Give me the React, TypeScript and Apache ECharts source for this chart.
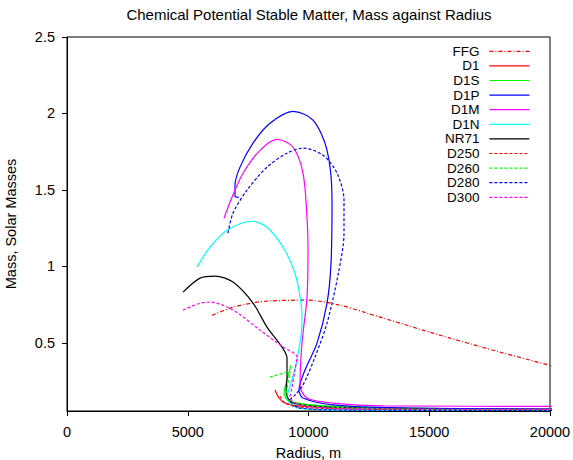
import React, { useEffect, useRef } from "react";
import * as echarts from "echarts";

type P = [number, number];

const TITLE = "Chemical Potential Stable Matter, Mass against Radius";
const X_NAME = "Radius, m";
const Y_NAME = "Mass, Solar Masses";
const Y_TICKS = [0.5, 1, 1.5, 2, 2.5];

// [radius (m), mass (solar masses)]
const FFG: P[] = [[6004, 0.68], [6874, 0.733], [7600, 0.758], [8282, 0.773], [9938, 0.779], [11305, 0.746], [12423, 0.694], [13800, 0.628], [15156, 0.563], [17931, 0.439], [19960, 0.354], [21000, 0.31]];
const D1: P[] = [[8613, 0.191], [8779, 0.139], [9027, 0.106], [9648, 0.086], [12133, 0.073], [16000, 0.069], [20500, 0.066]];
const D1S: P[] = [[9276, 0.354], [9110, 0.256], [8986, 0.171], [9193, 0.119], [10891, 0.086], [15860, 0.07], [20500, 0.066]];
const D1P: P[] = [[7123, 1.452], [6957, 1.459], [6957, 1.531], [7164, 1.649], [7702, 1.806], [8406, 1.936], [9359, 2.014], [10187, 1.956], [10767, 1.76], [10974, 1.433], [10933, 1.021], [10767, 0.76], [10353, 0.498], [9856, 0.322], [9607, 0.191], [9773, 0.139], [11015, 0.094], [13790, 0.074], [20500, 0.067]];
const D1M: P[] = [[6501, 1.315], [6833, 1.452], [7288, 1.609], [7992, 1.759], [8696, 1.831], [9359, 1.779], [9773, 1.609], [9938, 1.321], [9980, 1.126], [9938, 0.799], [9731, 0.498], [9648, 0.224], [9938, 0.139], [11015, 0.106], [13085, 0.088], [20500, 0.084]];
const D1N: P[] = [[5383, 0.995], [5922, 1.125], [6626, 1.236], [7661, 1.295], [8282, 1.256], [8945, 1.125], [9441, 0.955], [9690, 0.759], [9731, 0.629], [9524, 0.387], [9317, 0.257], [9110, 0.139], [9524, 0.074], [11719, 0.06], [20500, 0.057]];
const NR71: P[] = [[4804, 0.831], [5508, 0.923], [6129, 0.936], [6874, 0.897], [7702, 0.76], [8282, 0.603], [8903, 0.472], [9110, 0.4], [9110, 0.276], [9069, 0.178], [9359, 0.106], [11719, 0.074], [15860, 0.064], [20500, 0.06]];
const D250: P[] = [[8820, 0.151], [9027, 0.106], [9648, 0.079], [12133, 0.066], [20500, 0.06]];
const D260: P[] = [[8406, 0.276], [9234, 0.315], [9151, 0.237], [9069, 0.158], [9317, 0.106], [11305, 0.076], [15860, 0.063], [20500, 0.06]];
const D280: P[] = [[6667, 1.217], [6874, 1.348], [7454, 1.498], [8282, 1.649], [9110, 1.74], [9773, 1.773], [10601, 1.727], [11181, 1.609], [11470, 1.433], [11470, 1.217], [11222, 0.943], [10767, 0.629], [10270, 0.407], [9773, 0.224], [9441, 0.158], [9234, 0.125], [9648, 0.073], [11719, 0.06], [20500, 0.057]];
const D300: P[] = [[4804, 0.714], [5508, 0.759], [5922, 0.766], [6874, 0.714], [7992, 0.583], [8945, 0.472], [9524, 0.407], [9441, 0.322], [9317, 0.211], [9234, 0.145], [9700, 0.09], [12000, 0.07], [20500, 0.064]];

const SERIES: { name: string; data: P[]; color: string; type: any }[] = [
  { name: "FFG", data: FFG, color: "#ff0000", type: [4, 2, 1, 2] },
  { name: "D1", data: D1, color: "#ff0000", type: "solid" },
  { name: "D1S", data: D1S, color: "#00ff00", type: "solid" },
  { name: "D1P", data: D1P, color: "#0000ff", type: "solid" },
  { name: "D1M", data: D1M, color: "#ff00ff", type: "solid" },
  { name: "D1N", data: D1N, color: "#00ffff", type: "solid" },
  { name: "NR71", data: NR71, color: "#000000", type: "solid" },
  { name: "D250", data: D250, color: "#ff0000", type: [3, 2] },
  { name: "D260", data: D260, color: "#00ff00", type: [3, 2] },
  { name: "D280", data: D280, color: "#0000ff", type: [3, 2] },
  { name: "D300", data: D300, color: "#ff00ff", type: [3, 2] },
];

const FONT = "Liberation Sans";
const FS = 14.5;
const LW = 1.2;

export default function App() {
  const ref = useRef<HTMLDivElement>(null);
  useEffect(() => {
    if (!ref.current) return;
    const chart = echarts.init(ref.current, null, { renderer: "svg" });
    chart.setOption({
      animation: false,
      backgroundColor: "#ffffff",
      textStyle: { fontFamily: FONT },
      graphic: [
        {
          type: "text",
          x: 309,
          y: 14,
          style: { text: TITLE, fill: "#000", font: `15px "${FONT}"`, align: "center", verticalAlign: "middle" },
        },
      ],
      grid: {
        left: 67, right: 23, top: 37, bottom: 49,
        outerBoundsMode: "none", containLabel: false,
        show: true, borderColor: "#000", borderWidth: 1, backgroundColor: "transparent",
      },
      legend: {
        orient: "vertical",
        right: 38,
        top: 39,
        align: "right",
        itemWidth: 40,
        itemHeight: 10,
        itemGap: 0,
        itemStyle: { opacity: 0 },
        textStyle: { fontFamily: FONT, fontSize: 13.5, color: "#000", lineHeight: 14.6, padding: [0, 5, 0, 0] },
        data: SERIES.map((s) => ({
          name: s.name,
          lineStyle: { color: s.color, width: LW, type: s.type },
        })),
      },
      xAxis: {
        type: "value",
        min: 0,
        max: 20000,
        interval: 5000,
        name: X_NAME,
        nameLocation: "middle",
        nameGap: 34,
        nameTextStyle: { fontFamily: FONT, fontSize: FS, color: "#000" },
        axisLine: { show: true, lineStyle: { color: "#000" } },
        axisTick: { show: true, length: 5, lineStyle: { color: "#000" } },
        axisLabel: { fontFamily: FONT, fontSize: FS, color: "#000", margin: 13, formatter: (v: number) => String(v) },
        splitLine: { show: false },
      },
      yAxis: {
        type: "value",
        min: 0.054,
        max: 2.5,
        name: Y_NAME,
        nameLocation: "middle",
        nameGap: 49,
        nameTextStyle: { fontFamily: FONT, fontSize: FS, color: "#000" },
        axisLine: { show: true, lineStyle: { color: "#000" } },
        axisTick: { show: true, length: 5, customValues: Y_TICKS, lineStyle: { color: "#000" } },
        axisLabel: { fontFamily: FONT, fontSize: FS, color: "#000", margin: 12, customValues: Y_TICKS, formatter: (v: number) => String(v) },
        splitLine: { show: false },
      },
      series: SERIES.map((s) => ({
        name: s.name,
        type: "line",
        data: s.data,
        symbol: "none",
        showSymbol: false,
        smooth: 0.3,
        clip: true,
        color: s.color,
        lineStyle: { color: s.color, width: LW, type: s.type },
      })),
    });
    return () => chart.dispose();
  }, []);
  return <div ref={ref} style={{ position: "absolute", left: 0, top: 0, width: 573, height: 460 }} />;
}
